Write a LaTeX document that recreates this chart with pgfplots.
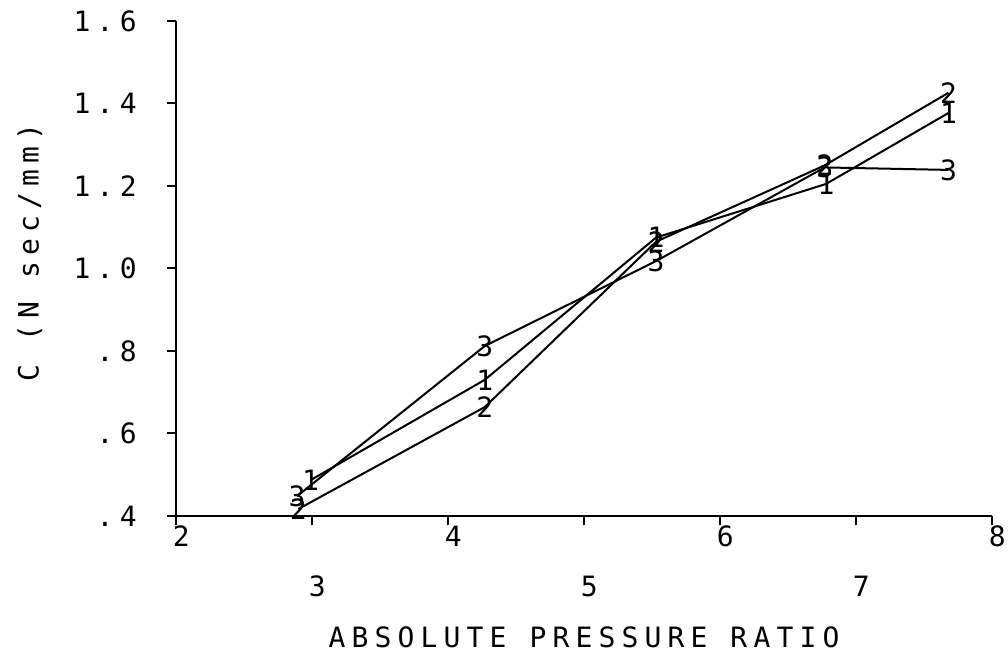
\documentclass[border=0pt]{standalone}
\usepackage{fontspec}
\usepackage{pgfplots}
\pgfplotsset{compat=1.18}
\newfontfamily\plt[LetterSpace=22]{DejaVu Sans Mono}
\newfontfamily\pltm{DejaVu Sans Mono}
\pgfplotstableread{
x y
2.99 0.487
4.27 0.730
5.53 1.075
6.78 1.205
7.68 1.377
}\seriesA
\pgfplotstableread{
x y
2.90 0.417
4.27 0.664
5.53 1.065
6.77 1.250
7.68 1.426
}\seriesB
\pgfplotstableread{
x y
2.89 0.448
4.27 0.812
5.53 1.018
6.77 1.245
7.68 1.239
}\seriesC
\begin{document}
\begin{tikzpicture}[x=1pt,y=1pt]
\useasboundingbox (-132,-102.75) rectangle (624,387);
\begin{axis}[
  at={(0,0)}, anchor=south west,
  scale only axis, width=612pt, height=371.25pt,
  xmin=2, xmax=8, ymin=0.4, ymax=1.6,
  axis x line*=bottom, axis y line*=left,
  axis line style={-, line width=2pt},
  xtick={2,4,6,8}, xticklabels={2,4,6,8},
  extra x ticks={3,5,7}, extra x tick labels={3,5,7},
  extra x tick style={tick label style={yshift=-37.5pt}},
  ytick={0.4,0.6,0.8,1.0,1.2,1.4,1.6},
  yticklabels={.4,.6,.8,1.0,1.2,1.4,1.6},
  /pgf/number format/assume math mode=true,
  tick align=outside, major tick length=7pt,
  tick style={line width=1.5pt, black},
  x tick label style={font=\plt\fontsize{21}{21}\selectfont, xshift=4pt, yshift=3pt},
  y tick label style={font=\plt\fontsize{21}{21}\selectfont, xshift=-19pt},
  xlabel={ABSOLUTE PRESSURE RATIO},
  ylabel={C (N sec/mm)},
  xlabel style={font=\plt\fontsize{21}{21}\selectfont, yshift=-8pt},
  every axis y label/.style={at={(axis description cs:-0.179,0.533)}, anchor=center,
     rotate=90, font=\plt\fontsize{21}{21}\selectfont},
  clip=false,
]
\addplot[black, line width=1.5pt, mark=text, text mark={1}, text mark as node=true,
  mark options={font=\pltm\fontsize{21}{21}\selectfont}] table[x=x,y=y] {\seriesA};
\addplot[black, line width=1.5pt, mark=text, text mark={2}, text mark as node=true,
  mark options={font=\pltm\fontsize{21}{21}\selectfont}] table[x=x,y=y] {\seriesB};
\addplot[black, line width=1.5pt, mark=text, text mark={3}, text mark as node=true,
  mark options={font=\pltm\fontsize{21}{21}\selectfont}] table[x=x,y=y] {\seriesC};
\end{axis}
\end{tikzpicture}
\end{document}
